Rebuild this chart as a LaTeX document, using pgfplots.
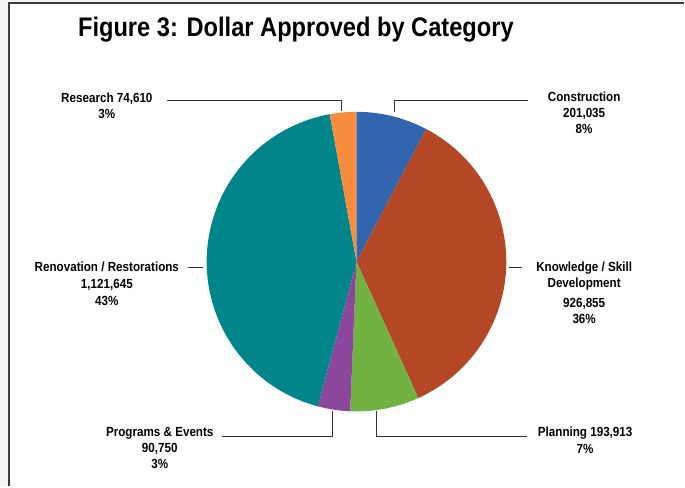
\documentclass[border=0pt]{standalone}
\usepackage{pgfplots}
\pgfplotsset{compat=1.18}
\usepackage{pgfplotstable}
\usepackage{fontspec}
\setmainfont{Liberation Sans}[FakeStretch=0.88]

\definecolor{pie0}{RGB}{48,100,174}
\definecolor{pie1}{RGB}{180,72,38}
\definecolor{pie2}{RGB}{114,178,67}
\definecolor{pie3}{RGB}{139,71,155}
\definecolor{pie4}{RGB}{0,133,138}
\definecolor{pie5}{RGB}{246,141,62}
\definecolor{bggray}{RGB}{242,245,244}
\definecolor{framegray}{RGB}{60,60,60}
\definecolor{leadergray}{RGB}{50,50,50}

% dollars approved, in thousands
\pgfplotstableread{
name value
Construction 201.035
Knowledge 926.855
Planning 193.913
Programs 90.750
Renovation 1121.645
Research 74.610
}\piedata

\begin{document}
\begin{tikzpicture}[
  lbl/.style={align=center, anchor=north, inner sep=0pt,
    font=\fontsize{13.3}{16}\selectfont\bfseries},
  leader/.style={leadergray, line width=1.2bp}
]
% slice angles, clockwise from 12 o'clock
\def\pietotal{0}
\foreach \i in {0,...,5}{
  \pgfplotstablegetelem{\i}{value}\of\piedata
  \pgfmathparse{\pietotal+\pgfplotsretval}\xdef\pietotal{\pgfmathresult}}
\def\piecum{0}
\foreach \i in {0,...,5}{
  \pgfplotstablegetelem{\i}{value}\of\piedata
  \pgfmathsetmacro\a{90-360*(\piecum/\pietotal)}
  \pgfmathparse{\piecum+\pgfplotsretval}\xdef\piecum{\pgfmathresult}
  \pgfmathsetmacro\b{90-360*(\piecum/\pietotal)}
  \expandafter\xdef\csname pieS\i\endcsname{\a}
  \expandafter\xdef\csname pieE\i\endcsname{\b}}

\begin{axis}[
  width=685bp, height=487bp, scale only axis,
  xmin=0, xmax=685, ymin=0, ymax=487,
  hide axis, clip=false
]
% page frame
\fill[bggray] (axis cs:0,0) rectangle (axis cs:685,487);
\fill[white] (axis cs:9.5,0) rectangle (axis cs:685,483.5);
\draw[framegray, line width=2bp] (axis cs:9.5,0) -- (axis cs:9.5,483.5) -- (axis cs:685,483.5);

% pie
\pgfplotsinvokeforeach{0,...,5}{
  \fill[pie#1] (axis cs:357,225) -- ++(\csname pieS#1\endcsname:150bp)
    arc[start angle=\csname pieS#1\endcsname, end angle=\csname pieE#1\endcsname, radius=150bp] -- cycle;
}

% title
\node[anchor=base west, inner sep=0pt, font=\fontsize{27}{32}\selectfont\bfseries]
  at (axis cs:78,450) {Figure 3: Dollar Approved by Category};

% leader lines
\draw[leader] (axis cs:167,386) -- (axis cs:342,386) -- (axis cs:342,376);
\draw[leader] (axis cs:395,375) -- (axis cs:395,386) -- (axis cs:529,386);
\draw[leader] (axis cs:510,219) -- (axis cs:523,219);
\draw[leader] (axis cs:188,219) -- (axis cs:203,219);
\draw[leader] (axis cs:222,50) -- (axis cs:333,50) -- (axis cs:333,75);
\draw[leader] (axis cs:377,75) -- (axis cs:377,50) -- (axis cs:528,50);

% labels
\node[lbl] at (axis cs:107,394) {Research 74,610\\3\%};
\node[lbl] at (axis cs:585,395) {Construction\\201,035\\8\%};
\node[lbl] at (axis cs:585,225) {Knowledge / Skill\\Development\\[4pt]926,855\\36\%};
\node[lbl] at (axis cs:107,225) {Renovation / Restorations\\[1pt]1,121,645\\[1pt]43\%};
\node[lbl] at (axis cs:160,59) {Programs \& Events\\90,750\\3\%};
\node[lbl] at (axis cs:586,60) {Planning 193,913\\[1pt]7\%};
\end{axis}
\end{tikzpicture}
\end{document}
